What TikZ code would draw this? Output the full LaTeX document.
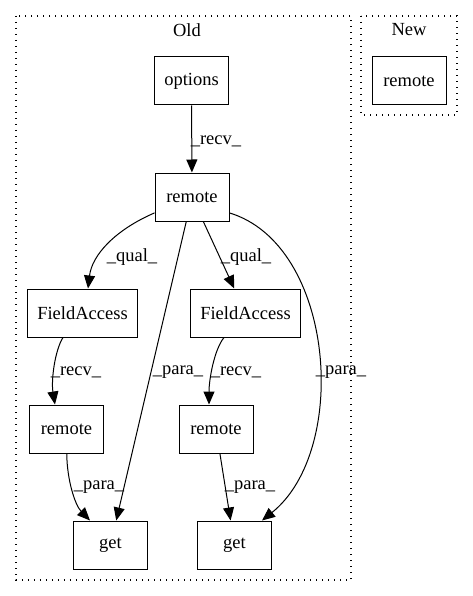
\documentclass[tikz,border=0pt]{standalone}
\usepackage{fontspec}
\setmainfont{Liberation Serif}
\usetikzlibrary{arrows.meta}
\begin{document}
\begin{tikzpicture}[x=1pt, y=1pt,
    box/.style={draw, line width=1pt, minimum width=74pt, minimum height=48pt,
        inner xsep=10pt, font=\fontsize{18.5}{22}\selectfont},
    edge/.style={line width=1pt, -{Triangle[length=13pt,width=11pt]}},
    lbl/.style={inner sep=0pt, font=\fontsize{18.5}{22}\selectfont},
    cluster/.style={line width=1.1pt, dash pattern=on 1.1pt off 4.9pt}]
    
    \useasboundingbox (0,0) rectangle (473,-596);
    
    % clusters
    \draw[cluster] (16,-16) rectangle (351,-580);
    \draw[cluster] (361,-16) rectangle (457,-115);
    \node[lbl] (old) at (187,-30) {Old};
    \node[lbl] (new) at (409,-30) {New};
    
    \node[box] (options) at (191.5,-81) {options};
    \node[box] (newremote) at (409,-81) {remote};
    \node[box] (remote) at (192,-197) {remote};
    \node[box] (fieldL) at (82.5,-313) {FieldAccess};
    \node[box] (fieldR) at (245.5,-313) {FieldAccess};
    \node[box] (remoteL) at (66.5,-429) {remote};
    \node[box] (remoteR) at (216,-429) {remote};
    \node[box] (getL) at (110.5,-545) {get};
    \node[box] (getR) at (234.5,-545) {get};
    
    \draw[edge] (options) -- (remote) node[lbl] (l1) at (216,-141) {\_recv\_};
    \draw[edge] (remote.-157) .. controls (115,-230) and (92,-255) .. ([xshift=5.5pt]fieldL.north)
        node[lbl] (l2) at (132,-257) {\_qual\_};
    \draw[edge] (remote) -- (getL) node[lbl] (l3) at (178,-372) {\_para\_};
    \draw[edge] (remote) -- (fieldR) node[lbl] (l4) at (246,-257) {\_qual\_};
    \draw[edge] (remote.-23) .. controls (335,-245) and (350,-450) .. ([xshift=27.5pt]getR.north)
        node[lbl] (l5) at (341,-372) {\_para\_};
    \draw[edge] ([xshift=-19.5pt]fieldL.south) .. controls (55,-350) and (51,-380) .. ([xshift=-11.5pt]remoteL.north)
        node[lbl] (l6) at (76,-372) {\_recv\_};
    \draw[edge] ([xshift=-21.5pt]fieldR.south) .. controls (214,-350) and (209,-380) .. ([xshift=-7pt]remoteR.north)
        node[lbl] (l7) at (236,-372) {\_recv\_};
    \draw[edge] (remoteL) .. controls (67,-480) and (75,-505) .. ([xshift=-20.5pt]getL.north)
        node[lbl] (l8) at (99,-487) {\_para\_};
    \draw[edge] (remoteR) -- (getR) node[lbl] (l9) at (250,-487) {\_para\_};
    
\end{tikzpicture}
\end{document}
